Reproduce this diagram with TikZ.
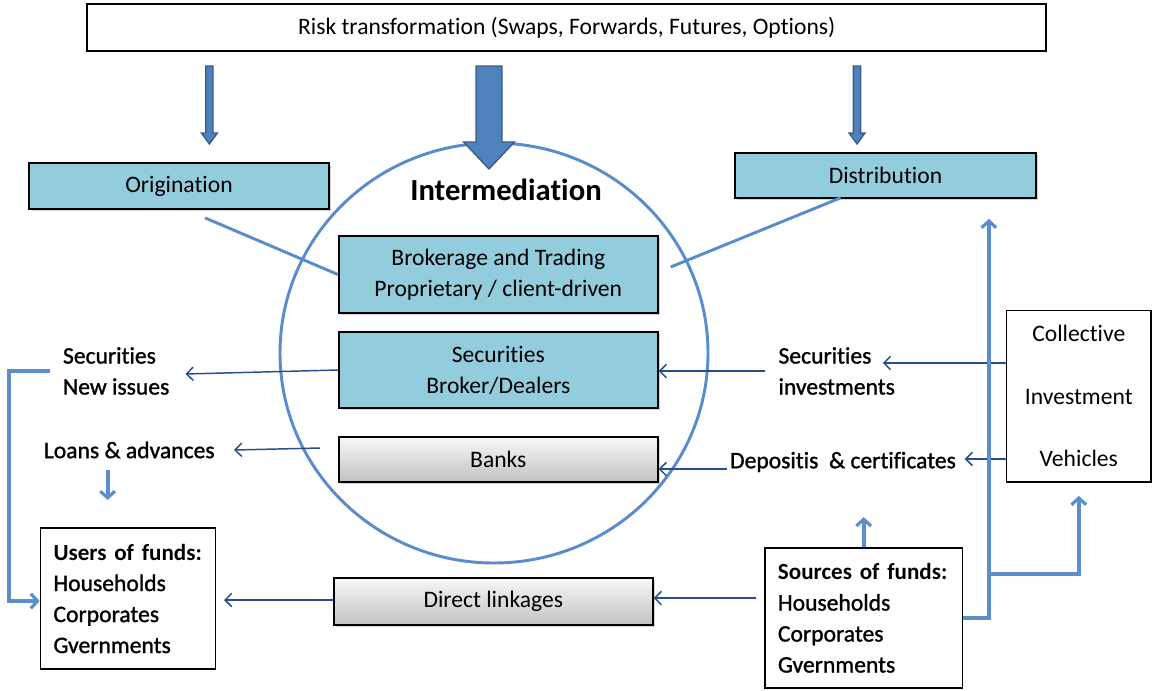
\documentclass[tikz,border=0pt]{standalone}
\usepackage{fontspec}
\setmainfont{Carlito}[Ligatures={TeX,NoCommon}]
\newfontface\semibold{Carlito}[FakeBold=1.2, Ligatures={TeX,NoCommon}]
\usetikzlibrary{arrows.meta,shadows,calc}

\definecolor{boxblue}{RGB}{147,205,221}
\definecolor{ringblue}{RGB}{88,140,204}
\definecolor{arrowblue}{RGB}{79,129,189}
\definecolor{arrowedge}{RGB}{56,93,138}
\definecolor{linkblue}{RGB}{38,78,140}
\definecolor{flowblue}{RGB}{92,142,206}

\newcommand{\boxfont}{\fontsize{17.7}{23.25}\selectfont}
\newcommand{\fundshead}[1]{\mbox{\fontsize{17.3}{23.25}\selectfont\bfseries #1}}

\tikzset{every picture/.style={line width=0.75pt}}
\tikzset{
  boxdims/.style 2 args={minimum width=#1*0.75pt, minimum height=#2*0.75pt},
  plainbox/.style={draw=black, line width=1.3pt, fill=white, inner sep=0pt, font=\boxfont, align=center},
  bluebox/.style={plainbox, fill=boxblue, drop shadow={shadow xshift=1.5pt, shadow yshift=-1.5pt, opacity=0.35}},
  graybox/.style={plainbox, top color=gray!6, bottom color=gray!48, drop shadow={shadow xshift=1.5pt, shadow yshift=-1.5pt, opacity=0.35}},
  fundsbox/.style={plainbox, align=left, inner xsep=13*0.75pt},
  labeltext/.style={inner sep=0pt, anchor=west, align=left, font=\boxfont\semibold},
  blockarrow/.style={fill=arrowblue, draw=arrowedge, line width=1pt, line join=miter},
  ringline/.style={draw=ringblue, line width=2.2pt},
  linkarrow/.style={draw=linkblue, line width=1.1pt, -{Straight Barb[length=5pt, width=10pt, line width=1.1pt]}},
  flowarrow/.style={draw=flowblue, line width=3pt, -{Straight Barb[length=5pt, width=11pt, line width=2.4pt]}}
}

\begin{document}
\begin{tikzpicture}[x=0.75pt,y=0.75pt,yscale=-1,xscale=1]
	\useasboundingbox (0,0) rectangle (1152,690);

	%Shape: Circle
	\draw [ringline] (494,353) ellipse [x radius=214, y radius=210];

	%Shape: Block Arrows
	\draw [blockarrow] (205.8,66) -- (213,66) -- (213,133) -- (217.4,133) -- (209.4,144) -- (201.4,133) -- (205.8,133) -- cycle ;
	\draw [blockarrow] (476,66) -- (502,66) -- (502,142) -- (514.5,142) -- (489,169) -- (463.5,142) -- (476,142) -- cycle ;
	\draw [blockarrow] (853.4,66) -- (860.6,66) -- (860.6,133) -- (865,133) -- (857,144) -- (849,133) -- (853.4,133) -- cycle ;

	%Boxes
	\node [plainbox, boxdims={959}{47}] (risk) at (566.7,27.3) {\raisebox{-2pt}{Risk transformation (Swaps, Forwards, Futures, Options)}};
	\node [bluebox, boxdims={300}{46}] (orig) at (179,186) {\raisebox{-1.2pt}{Origination}};
	\node [bluebox, boxdims={301}{45}] (distr) at (885.5,175.5) {Distribution};
	\node [font=\fontsize{23}{28}\selectfont\bfseries] (interm) at (506,190) {Intermediation};
	\node [bluebox, boxdims={319}{77}] (broker) at (498.3,274.5) {Brokerage and Trading\\Proprietary / client-driven};
	\node [bluebox, boxdims={319}{76}] (secbd) at (498.3,370) {Securities\\Broker/Dealers};
	\node [graybox, boxdims={319}{45}] (banks) at (498.3,459.5) {Banks};
	\node [graybox, boxdims={319}{47}] (direct) at (493.3,601.5) {Direct linkages};
	\node [plainbox, boxdims={144.5}{171.5}, font=\fontsize{17.7}{46.9}\selectfont] (civ) at (1078.8,396.3) {Collective\\Investment\\Vehicles};
	\node [fundsbox, boxdims={175}{141}, text width=149*0.75pt] (users) at (128,598.5) {\fundshead{Users of funds:}\\{\semibold Households}\\{\semibold Corporates}\\{\semibold Gvernments}};
	\node [fundsbox, boxdims={197.5}{140}, text width=171.5*0.75pt] (sources) at (863.7,618) {\fundshead{Sources of funds:}\\{\semibold Households}\\{\semibold Corporates}\\{\semibold Gvernments}};

	%Labels
	\node [labeltext] (secnew) at (62.5,371) {Securities\\New issues};
	\node [labeltext] (loans) at (43.4,450) {Loans \& advances};
	\node [labeltext] (secinv) at (778,371) {Securities\\investments};
	\node [labeltext] (deposits) at (729.6,462) {Depositis\ \ \& certificates};

	%Free ends
	\coordinate (secnewtip) at (185.5,374);
	\coordinate (loanstip) at (234,450);
	\coordinate (banksout) at (320,448);
	\coordinate (secinvout) at (765,371);
	\coordinate (secinvtip) at (882.8,363);
	\coordinate (depout) at (726.6,469);
	\coordinate (deptip) at (964.7,459);
	\coordinate (sourceout) at (756,598);
	\coordinate (userstip) at (224,600);

	%Straight Lines
	\draw [ringline] ($(orig.south)+(26,8)$) -- (broker.west) ;
	\draw [ringline] ($(distr.south)+(-45,-1)$) -- ($(broker.east)+(12,-7.5)$) ;

	\draw [linkarrow] (secbd.west) -- (secnewtip) ;
	\draw [linkarrow] (banksout) -- (loanstip) ;
	\draw [linkarrow] (secinvout) -- (secbd.east |- secinvout) ;
	\draw [linkarrow] (civ.west |- secinvtip) -- (secinvtip) ;
	\draw [linkarrow] (depout) -- (banks.east |- depout) ;
	\draw [linkarrow] (civ.west |- deptip) -- (deptip) ;
	\draw [linkarrow] (sourceout) -- (direct.east |- sourceout) ;
	\draw [linkarrow] (direct.west |- userstip) -- (userstip) ;

	\draw [flowarrow] ($(secnew.west)+(-13,0)$) -- (9.2,371) |- ($(users.west)+(0,2.5)$) ;
	\draw [flowarrow] ($(loans.west)+(64.2,20)$) -- ++(0,30) ;
	\draw [flowarrow] (sources.north) -- ++(0,-30) ;
	\draw [flowarrow] (sources.east) -| ($(distr.south east)+(-48,20)$) ;
	\draw [flowarrow] ($(sources.east)+(25.5,-44)$) -| ($(civ.south)+(0,13)$) ;

\end{tikzpicture}
\end{document}
